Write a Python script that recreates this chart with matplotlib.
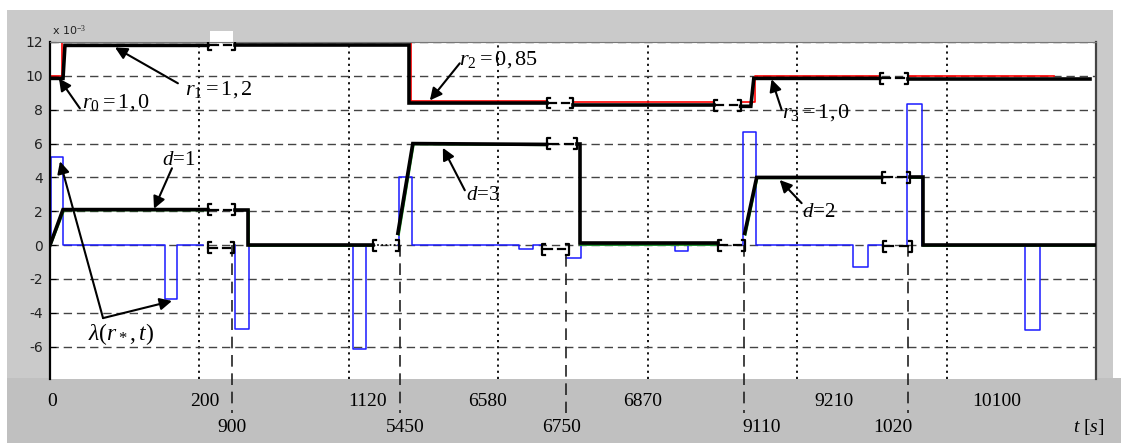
import matplotlib
matplotlib.use('Agg')
from matplotlib import pyplot as plt
from matplotlib.patches import Rectangle
from matplotlib.transforms import blended_transform_factory

# plot x is a compressed time axis, one dotted grid cell per unit
# reference r (red)
r_ref = [
    ([0, 0.08, 0.08, 1.057], [10, 10, 12, 12]),
    ([1.237, 2.415, 2.415, 3.324], [12, 12, 8.5, 8.5]),
    ([3.498, 4.441], [8.45, 8.45]),
    ([4.622, 4.72, 4.72, 5.552], [8.45, 8.45, 10, 10]),
    ([5.739, 6.722], [10, 10]),
]
# estimated r (black)
r_est = [
    ([0, 0.087, 0.10, 1.057], [9.85, 9.85, 11.8, 11.8]),
    ([1.237, 2.401, 2.401, 3.324], [11.85, 11.85, 8.4, 8.4]),
    ([3.498, 4.441], [8.3, 8.3]),
    ([4.622, 4.69, 4.71, 5.552], [8.2, 8.2, 9.85, 9.85]),
    ([5.739, 6.957], [9.8, 9.8]),
]
# d estimate (black) and true (green)
d_est = [
    ([0, 0.087, 1.057], [0, 2.1, 2.1]),
    ([1.237, 1.325, 1.325, 2.161], [2.1, 2.1, 0, 0]),
    ([2.328, 2.428, 3.324], [0.7, 6.0, 5.95]),
    ([3.525, 3.545, 3.545, 4.468], [6.0, 6.0, 0.1, 0.1]),
    ([4.649, 4.729, 5.565], [0.7, 4.0, 4.0]),
    ([5.753, 5.839, 5.839, 7.0], [4.0, 4.0, 0, 0]),
]
d_true = [
    ([0.005, 0.095, 1.057], [0, 2.05, 2.05]),
    ([1.237, 1.333, 1.333, 2.161], [2.05, 2.05, -0.05, -0.05]),
    ([2.335, 2.435, 3.324], [0.6, 5.95, 5.9]),
    ([3.525, 3.55, 3.55, 4.468], [5.95, 5.95, 0.0, 0.0]),
    ([4.655, 4.735, 5.565], [0.6, 3.95, 3.95]),
    ([5.753, 5.845, 5.845, 7.0], [3.95, 3.95, -0.05, -0.05]),
]
# lambda(r*, t) (blue)
lam = [
    ([0, 0.007, 0.007, 0.087, 0.087, 0.77, 0.77, 0.85, 0.85, 1.023],
     [0, 0, 5.2, 5.2, 0, 0, -3.2, -3.2, 0, 0]),
    ([1.237, 1.237, 1.331, 1.331, 2.027, 2.027, 2.114, 2.114, 2.161],
     [0, -4.95, -4.95, 0, 0, -6.15, -6.15, 0, 0]),
    ([2.328, 2.334, 2.334, 2.421, 2.421, 3.137, 3.137, 3.231, 3.231, 3.291],
     [0, 0, 4.0, 4.0, 0, 0, -0.25, -0.25, 0, 0]),
    ([3.452, 3.552, 3.552, 4.181, 4.181, 4.268, 4.268, 4.468],
     [-0.75, -0.75, 0, 0, -0.35, -0.35, 0, 0]),
    ([4.635, 4.635, 4.722, 4.722, 5.371, 5.371, 5.472, 5.472, 5.572],
     [0, 6.7, 6.7, 0, 0, -1.3, -1.3, 0, 0]),
    ([5.732, 5.732, 5.833, 5.833, 6.522, 6.522, 6.622, 6.622, 7.0],
     [0, 8.35, 8.35, 0, 0, -5.0, -5.0, 0, 0]),
]
# axis break marks: start, end, level, kind
breaks = [
    (1.057, 1.237, 11.85, 'dash'),
    (1.057, 1.237, 2.1, 'dash'),
    (1.057, 1.230, -0.15, 'dash'),
    (2.161, 2.335, 0.0, 'dot'),
    (3.324, 3.498, 8.4, 'dash'),
    (3.324, 3.525, 6.0, 'dash'),
    (3.291, 3.472, -0.24, 'dash'),
    (4.441, 4.622, 8.25, 'dash'),
    (4.468, 4.649, 0.0, 'dash'),
    (5.552, 5.739, 9.85, 'dash'),
    (5.565, 5.753, 4.0, 'dash'),
    (5.572, 5.766, -0.06, 'dash'),
]
# switching instants (long dashed verticals)
event_x = [1.217, 2.341, 3.452, 4.642, 5.739]
event_top = [0, 0, -0.6, 0, 0]

labels_row1 = ['0', '200', '1120', '6580', '6870', '9210', '10100']
labels_row1_x = [0.013, 1.037, 2.127, 2.93, 3.967, 5.244, 6.334]
labels_row2 = ['900', '5450', '6750', '9110', '1020']
labels_row2_x = [1.217, 2.375, 3.425, 4.763, 5.639]

yticks = [-6, -4, -2, 0, 2, 4, 6, 8, 10, 12]

plt.rcParams['mathtext.fontset'] = 'custom'
plt.rcParams['mathtext.rm'] = 'Liberation Serif'
plt.rcParams['mathtext.it'] = 'Liberation Serif:italic'

W, H = 1121, 443
fig = plt.figure(figsize=(W / 100, H / 100), dpi=100, facecolor='#cacaca')


def box(x0, y0, x1, y1, color):
    # figure pixel box, origin top left
    fig.add_artist(Rectangle((x0 / W, 1 - y1 / H), (x1 - x0) / W, (y1 - y0) / H,
                             transform=fig.transFigure, color=color, zorder=-1, lw=0))


box(0, 0, W, 10, 'white')
box(0, 0, 7, H, 'white')
box(1113, 0, W, 378, 'white')
box(7, 378, W, H, '#c0c0c0')
box(210, 31, 233, 43, 'white')

ax = fig.add_axes([50 / W, (H - 378.7) / H, 1046 / W, (378.7 - 42) / H])
ax.set_xlim(0, 7)
ax.set_ylim(-7.89, 12)

ax.set_xticks([1, 2, 3, 4, 5, 6])
ax.set_xticklabels([])
ax.tick_params(axis='x', length=0)
ax.set_yticks(yticks)
ax.set_yticklabels([str(v) for v in yticks], fontsize=10, color='#222222')
ax.tick_params(axis='y', direction='in', length=4, pad=5)
ax.xaxis.grid(True, linestyle=(0, (1.2, 2.2)), color='k', lw=1.3)
ax.yaxis.grid(True, linestyle=(0, (6, 3.5)), color='#444444', lw=1.0)

ax.spines['bottom'].set_visible(False)
ax.spines['left'].set_linewidth(1.6)
ax.spines['top'].set_color('#777777')
ax.spines['right'].set_color('#444444')
ax.spines['right'].set_linewidth(1.6)

ax.text(0.002, 1.012, r'x 10$^{-3}$', transform=ax.transAxes, fontsize=8,
        ha='left', va='bottom', color='#222222')

for xs, ys in lam:
    ax.plot(xs, ys, color='#1a1aff', lw=1.1, zorder=2)
for xs, ys in r_ref:
    ax.plot(xs, ys, color='red', lw=1.2, zorder=2)
for xs, ys in d_true:
    ax.plot(xs, ys, color='#1f9a1f', lw=1.3, zorder=2.5)
for xs, ys in r_est:
    ax.plot(xs, ys, color='k', lw=2.6, zorder=3, solid_joinstyle='miter')
for xs, ys in d_est:
    ax.plot(xs, ys, color='k', lw=2.6, zorder=3, solid_joinstyle='miter')

for x0, x1, y, kind in breaks:
    h, s = 0.32, 0.02
    w = x1 - x0
    ax.plot([x0 + s, x0, x0, x0 + s], [y + h, y + h, y - h, y - h], color='k', lw=1.6, zorder=4)
    ax.plot([x1 - s, x1, x1, x1 - s], [y + h, y + h, y - h, y - h], color='k', lw=1.6, zorder=4)
    if kind == 'dot':
        ax.plot([x0, x1], [y, y], color='k', lw=1.2, linestyle=(0, (1, 1.5)), zorder=4)
    else:
        ax.plot([x0, x0 + 0.36 * w], [y, y], color='k', lw=1.6, zorder=4)
        ax.plot([x0 + 0.6 * w, x0 + 0.86 * w], [y, y], color='k', lw=1.6, zorder=4)

for x, top in zip(event_x, event_top):
    ax.plot([x, x], [top, -9.9], color='#222222', lw=1.2, linestyle=(0, (7, 4)),
            clip_on=False, zorder=2.2)

tr = blended_transform_factory(ax.transData, ax.transAxes)
for lab, x in zip(labels_row1, labels_row1_x):
    ax.text(x, -0.069, lab, transform=tr, ha='center', va='center',
            fontsize=14, family='Liberation Serif')
for lab, x in zip(labels_row2, labels_row2_x):
    ax.text(x, -0.1435, lab, transform=tr, ha='center', va='center',
            fontsize=14, family='Liberation Serif')
ax.text(6.95, -0.1435, r'$t$ [$s$]', transform=tr, ha='center', va='center',
        fontsize=14, family='Liberation Serif')

arrow = dict(arrowstyle='-|>', color='k', lw=1.5, mutation_scale=18, shrinkA=0, shrinkB=0)


def pointer(tip, tail):
    ax.annotate('', xy=tip, xytext=tail, arrowprops=arrow, zorder=5)


pointer((0.06, 9.85), (0.20, 8.08))
ax.text(0.214, 8.45, r'$r_0=1,0$', fontsize=16, ha='left', va='center')
pointer((0.435, 11.68), (0.856, 9.56))
ax.text(0.903, 9.2, r'$r_1=1,2$', fontsize=16, ha='left', va='center')
pointer((0.696, 2.15), (0.816, 4.54))
ax.text(0.86, 5.0, r'$d$=1', fontsize=15, ha='center', va='center', family='Liberation Serif')

vertex = (0.355, -4.31)
pointer((0.067, 4.95), vertex)
pointer((0.816, -3.30), vertex)
ax.text(0.475, -5.25, r'$\lambda(r_*,t)$', fontsize=17, ha='center', va='center')

pointer((2.629, 5.75), (2.776, 3.24))
ax.text(2.896, 2.95, r'$d$=3', fontsize=15, ha='center', va='center', family='Liberation Serif')
pointer((2.542, 8.55), (2.742, 10.74))
ax.text(2.736, 10.95, r'$r_2=0,85$', fontsize=16, ha='left', va='center')
pointer((4.829, 9.8), (4.896, 8.0))
ax.text(4.896, 7.85, r'$r_3=1,0$', fontsize=16, ha='left', va='center')
pointer((4.883, 3.85), (5.03, 2.48))
ax.text(5.03, 1.9, r'$d$=2', fontsize=15, ha='left', va='center', family='Liberation Serif')

plt.savefig('out.png', dpi=100, facecolor=fig.get_facecolor())
